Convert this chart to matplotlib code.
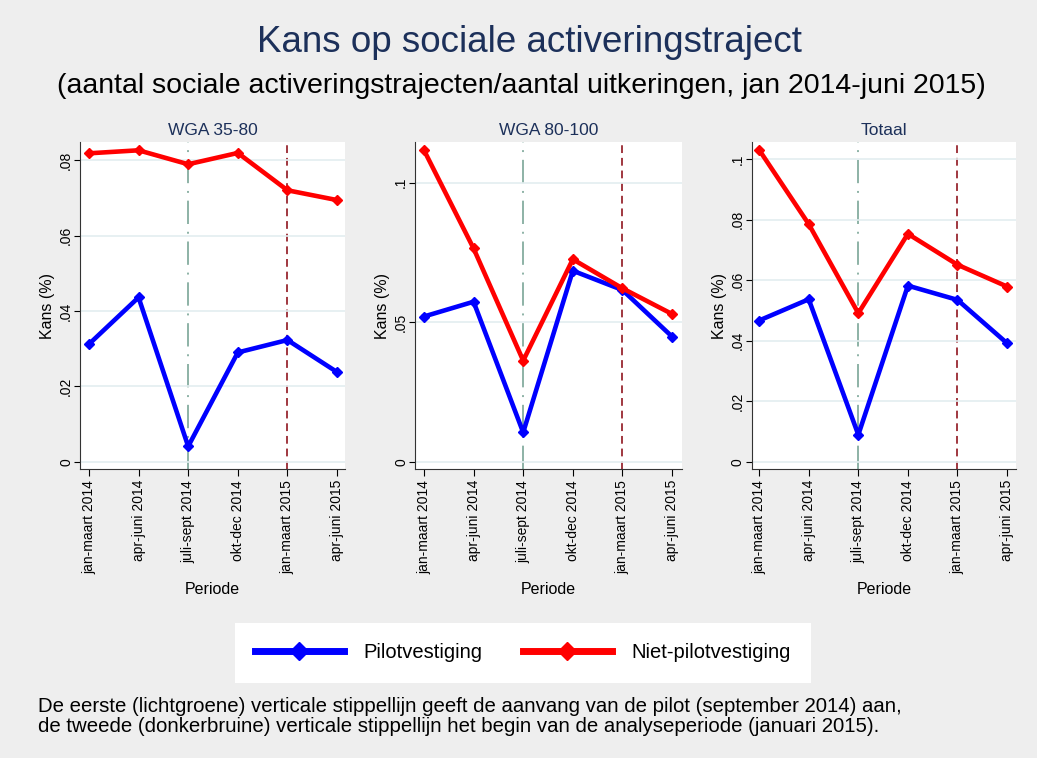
import numpy as np
import matplotlib.pyplot as plt
from matplotlib.ticker import FuncFormatter

plt.rcParams['font.family'] = ['Liberation Sans', 'DejaVu Sans']

periods = ['jan-maart 2014', 'apr-juni 2014', 'juli-sept 2014',
           'okt-dec 2014', 'jan-maart 2015', 'apr-juni 2015']

panel_titles = ['WGA 35-80', 'WGA 80-100', 'Totaal']

# Pilotvestiging / Niet-pilotvestiging per panel
pilot_wga3580 = [0.0312, 0.0436, 0.0041, 0.0290, 0.0323, 0.0238]
niet_wga3580 = [0.0818, 0.0826, 0.0789, 0.0819, 0.0720, 0.0694]
pilot_wga80100 = [0.0521, 0.0574, 0.0106, 0.0685, 0.0616, 0.0449]
niet_wga80100 = [0.1117, 0.0765, 0.0363, 0.0726, 0.0622, 0.0530]
pilot_totaal = [0.0467, 0.0537, 0.0090, 0.0582, 0.0535, 0.0392]
niet_totaal = [0.1030, 0.0785, 0.0491, 0.0753, 0.0651, 0.0579]

yticks_list = [[0, 0.02, 0.04, 0.06, 0.08],
               [0, 0.05, 0.1],
               [0, 0.02, 0.04, 0.06, 0.08, 0.1]]
ylims = [(-0.0019, 0.0848), (-0.0025, 0.1146), (-0.0023, 0.1056)]
xlims = [(0.82, 6.16), (0.82, 6.20), (0.85, 6.18)]

pilot_start = 3   # juli-sept 2014
analyse_start = 5  # jan-maart 2015

bg = '#EEEEEE'
navy = '#1C305A'
blue = '#0000FF'
red = '#FF0000'

def fmt(v, pos):
    if abs(v) < 1e-12:
        return '0'
    s = ('%g' % v)
    return s.replace('0.', '.', 1)

fig = plt.figure(figsize=(10.37, 7.58), dpi=100, facecolor=bg)

lefts = [80, 415, 751.7]
rights = [345, 682, 1016]
W, H = 1037, 758
bottom = 1 - 469 / H
height = (469 - 142) / H

pilots = [pilot_wga3580, pilot_wga80100, pilot_totaal]
niets = [niet_wga3580, niet_wga80100, niet_totaal]
x = np.arange(1, len(periods) + 1)

for i in range(3):
    ax = fig.add_axes([lefts[i] / W, bottom, (rights[i] - lefts[i]) / W, height])
    ax.set_facecolor('white')
    ax.set_yticks(yticks_list[i])
    ax.yaxis.set_major_formatter(FuncFormatter(fmt))
    ax.grid(axis='y', color='#E3EEF0', linewidth=1.2, zorder=0)
    ax.axvline(pilot_start, color='#8DB2A6', linestyle=(0, (12, 4, 1, 4)), linewidth=1.4, zorder=1)
    ax.axvline(analyse_start, color='#A0373F', linestyle=(0, (4, 2.5)), linewidth=1.4, zorder=1)
    ax.plot(x, pilots[i], color=blue, linewidth=3.3, marker='D', markersize=5, zorder=3)
    ax.plot(x, niets[i], color=red, linewidth=3.3, marker='D', markersize=5, zorder=3)
    ax.set_xlim(*xlims[i])
    ax.set_ylim(*ylims[i])
    ax.set_xticks(x)
    ax.set_xticklabels(periods, rotation=90, fontsize=10)
    for lab in ax.get_yticklabels():
        lab.set_rotation(90)
        lab.set_va('center')
    ax.tick_params(axis='y', labelsize=10, length=4, pad=1)
    ax.tick_params(axis='x', length=5, pad=3)
    for s in ['top', 'right']:
        ax.spines[s].set_visible(False)
    for s in ['left', 'bottom']:
        ax.spines[s].set_color('#333333')
    ax.set_ylabel('Kans (%)', fontsize=11.5, labelpad=3)
    ax.set_xlabel('Periode', fontsize=11.5, labelpad=6)
    ax.set_title(panel_titles[i], color=navy, fontsize=12.5, pad=5)

fig.text(529 / W, 1 - 43 / H, 'Kans op sociale activeringstraject', ha='center', va='center',
         fontsize=26.5, color=navy)
fig.text(521 / W, 1 - 86 / H,
         '(aantal sociale activeringstrajecten/aantal uitkeringen, jan 2014-juni 2015)',
         ha='center', va='center', fontsize=20.5, color='black')

h1, = plt.plot([], [], color=blue, linewidth=5, marker='D', markersize=9)
h2, = plt.plot([], [], color=red, linewidth=5, marker='D', markersize=9)
leg = fig.legend([h1, h2], ['Pilotvestiging', 'Niet-pilotvestiging'], loc='center',
                 bbox_to_anchor=(523 / W, 1 - 653 / H), ncol=2, fontsize=14.5,
                 handlelength=4.4, columnspacing=2.0, borderpad=1.0, handletextpad=1.0,
                 frameon=True, fancybox=False, edgecolor='white', facecolor='white', framealpha=1)
leg.get_frame().set_linewidth(0)

fig.text(38 / W, 1 - 706 / H,
         'De eerste (lichtgroene) verticale stippellijn geeft de aanvang van de pilot (september 2014) aan,',
         ha='left', va='center', fontsize=14.7)
fig.text(38 / W, 1 - 726 / H,
         'de tweede (donkerbruine) verticale stippellijn het begin van de analyseperiode (januari 2015).',
         ha='left', va='center', fontsize=14.7)

fig.savefig('out.png', dpi=100, facecolor=bg)
